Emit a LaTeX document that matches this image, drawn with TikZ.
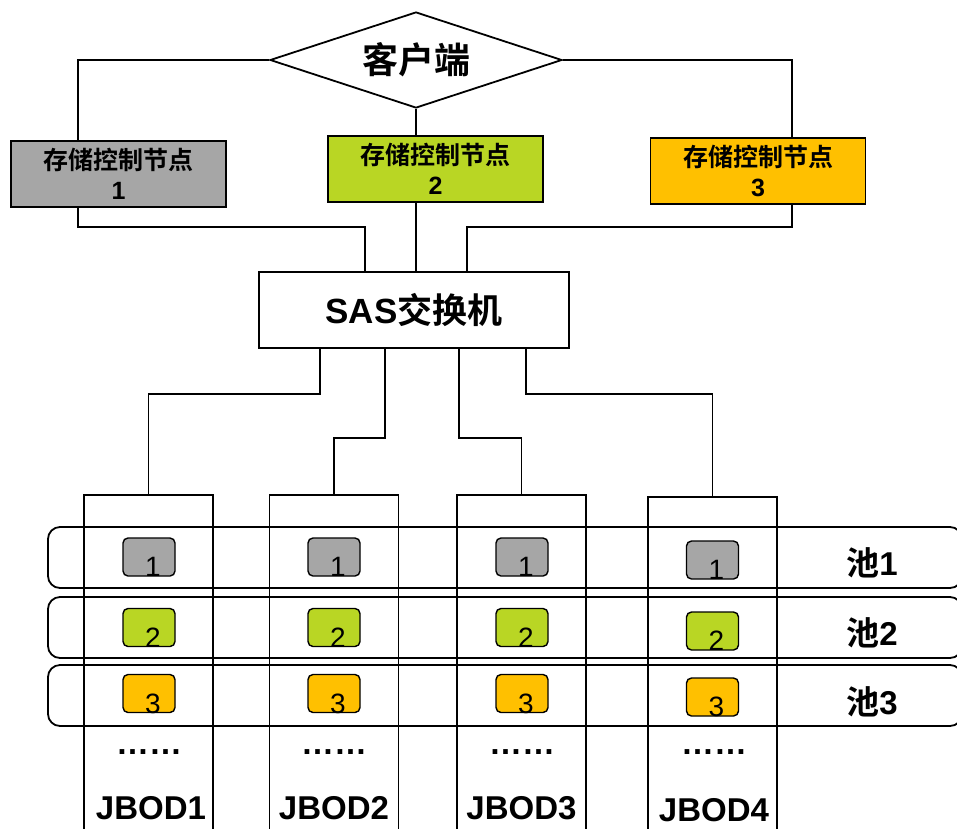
\documentclass[tikz,border=0pt]{standalone}
\usepackage{fontspec}
\setmainfont{Liberation Sans}
\newfontfamily\cjk{Noto Sans CJK SC}[BoldFont={Noto Sans CJK SC Bold}]
\usetikzlibrary{shapes.geometric}
\definecolor{ctlgray}{HTML}{A6A6A6}
\definecolor{ctlgreen}{HTML}{B9D624}
\definecolor{ctlgold}{HTML}{FFC000}
\tikzset{ctlbox/.style={draw,line width=1.8pt,minimum width=215,minimum height=66,inner sep=0pt,align=center,font=\fontsize{25}{30}\selectfont\bfseries\cjk}}
\tikzset{disk/.style={draw,line width=1.4pt,rounded corners=5pt,minimum width=52,minimum height=38,inner sep=0pt}}
\tikzset{jbodcol/.style={draw,line width=1.8pt,minimum width=129,minimum height=360,inner sep=0pt}}
\tikzset{poolbox/.style={draw,line width=1.8pt,rounded corners=12pt,minimum width=914,minimum height=61,inner sep=0pt}}

\begin{document}
\begin{tikzpicture}[x=1pt,y=-1pt,line width=1.8pt]
\useasboundingbox (0,0) rectangle (957,828);
\clip (0,0) rectangle (957,828);
\fill[white] (0,0) rectangle (957,828);

% client and controllers
\node[draw,diamond,aspect=3,inner sep=0pt,minimum width=292,minimum height=96,font=\fontsize{36}{36}\selectfont\bfseries\cjk] (client) at (416,60) {\raisebox{-6pt}{客户端}};
\node[ctlbox,fill=ctlgray] (ctl1) at (118.5,174) {存储控制节点\\{\bfseries\rmfamily 1}};
\node[ctlbox,fill=ctlgreen] (ctl2) at (435.5,169) {存储控制节点\\{\bfseries\rmfamily 2}};
\node[ctlbox,fill=ctlgold] (ctl3) at (758,171) {存储控制节点\\{\bfseries\rmfamily 3}};

\node[draw,minimum width=310,minimum height=76,inner sep=0pt,font=\fontsize{35}{35}\selectfont\bfseries] (sas) at (414,310) {SAS{\cjk 交换机}};

\draw (client.west) -| ([xshift=-40.5]ctl1.north);
\draw (client.east) -| ([xshift=34]ctl3.north);
\draw (client.south) -- (client.south |- ctl2.north);

\draw ([xshift=-40.5]ctl1.south) -- ++(0,19) -| ([xshift=-49]sas.north);
\draw (client.south |- ctl2.south) -- (client.south |- sas.north);
\draw ([xshift=34]ctl3.south) -- ++(0,22) -| ([xshift=53]sas.north);

% jbods
\node[jbodcol] (jbod1) at (148.5,675) {};
\node[jbodcol] (jbod2) at (334,675) {};
\node[jbodcol] (jbod3) at (521.5,675) {};
\node[jbodcol] (jbod4) at (712.5,677) {};

\draw ([xshift=-94]sas.south) -- ++(0,45) -| (jbod1.north);
\draw ([xshift=-29]sas.south) -- ++(0,89) -| (jbod2.north);
\draw ([xshift=45]sas.south) -- ++(0,89) -| (jbod3.north);
\draw ([xshift=112]sas.south) -- ++(0,45) -| (jbod4.north);

% pools
\node[poolbox] (pool1) at (505,557.5) {};
\node[poolbox] (pool2) at (505,627.5) {};
\node[poolbox] (pool3) at (505,695.5) {};
\node[font=\fontsize{33}{33}\selectfont\bfseries] (plab1) at (872,563) {{\cjk 池}1};
\node[font=\fontsize{33}{33}\selectfont\bfseries] (plab2) at (872,633) {{\cjk 池}2};
\node[font=\fontsize{33}{33}\selectfont\bfseries] (plab3) at (872,702) {{\cjk 池}3};

\tikzset{every label/.style={font=\fontsize{28}{28}\selectfont,anchor=base,inner sep=0pt,xshift=4pt,yshift=0pt}}
\node[disk,fill=ctlgray,label=south:1] (d11) at (149,557) {};
\node[disk,fill=ctlgreen,label=south:2] (d12) at (149,627.5) {};
\node[disk,fill=ctlgold,label=south:3] (d13) at (149,693.5) {};
\node[disk,fill=ctlgray,label=south:1] (d21) at (334,557) {};
\node[disk,fill=ctlgreen,label=south:2] (d22) at (334,627.5) {};
\node[disk,fill=ctlgold,label=south:3] (d23) at (334,693.5) {};
\node[disk,fill=ctlgray,label=south:1] (d31) at (522,557) {};
\node[disk,fill=ctlgreen,label=south:2] (d32) at (522,627.5) {};
\node[disk,fill=ctlgold,label=south:3] (d33) at (522,693.5) {};
\node[disk,fill=ctlgray,label=south:1] (d41) at (712.5,560) {};
\node[disk,fill=ctlgreen,label=south:2] (d42) at (712.5,631) {};
\node[disk,fill=ctlgold,label=south:3] (d43) at (712.5,697) {};

\node[font=\fontsize{33}{33}\selectfont\bfseries] (dots1) at (149,752) {……};
\node[font=\fontsize{33}{33}\selectfont\bfseries] (dots2) at (334,752) {……};
\node[font=\fontsize{33}{33}\selectfont\bfseries] (dots3) at (522,752) {……};
\node[font=\fontsize{33}{33}\selectfont\bfseries] (dots4) at (714,752) {……};

\node[font=\fontsize{33}{33}\selectfont\bfseries] (jlab1) at (151,808) {JBOD1};
\node[font=\fontsize{33}{33}\selectfont\bfseries] (jlab2) at (334,808) {JBOD2};
\node[font=\fontsize{33}{33}\selectfont\bfseries] (jlab3) at (521.5,808) {JBOD3};
\node[font=\fontsize{33}{33}\selectfont\bfseries] (jlab4) at (714,810) {JBOD4};
\end{tikzpicture}
\end{document}
